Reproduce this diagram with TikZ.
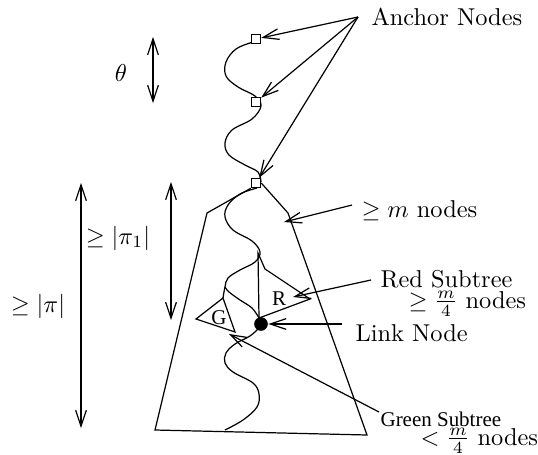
\documentclass[tikz,border=0pt]{standalone}
\usepackage{fontspec}
\newfontfamily\timesfont{Liberation Serif}
\usetikzlibrary{arrows.meta}
\begin{document}
\begin{tikzpicture}[x=0.41pt,y=-0.41pt, line width=0.5pt,
  barb/.style={-{Straight Barb[length=6.5pt,width=4.4pt]}},
  dbarb/.style={{Straight Barb[length=6.5pt,width=4.4pt]}-{Straight Barb[length=6.5pt,width=4.4pt]}},
  anchorbox/.style={draw, rectangle, minimum size=3.8pt, inner sep=0pt, fill=white},
  lbl/.style={inner sep=0pt, font=\normalsize},
  smalltimes/.style={inner sep=0pt, font=\timesfont\fontsize{8.6}{10}\selectfont},
  wave/.style={smooth, tension=0.6}]
\useasboundingbox (0,0) rectangle (538,454);

% outer tree outline
\coordinate (tl) at (207,213);
\coordinate (bl) at (155,430);
\coordinate (br) at (367,435);
\coordinate (tr) at (288,213);

% path through the tree
\draw plot[wave] coordinates {(253,42) (236,49) (226,62) (226,76) (238,87) (255,96) (261,106)
  (252,119) (232,130) (225,143) (229,155) (245,165) (258,172) (261,182)};
\draw plot[wave] coordinates {(257,188) (240,194) (228,205) (225,217) (233,230) (252,241)
  (260,252) (255,262) (240,270) (228,278) (225,287) (223,298)};
\draw plot[wave] coordinates {(225,287) (229,292) (240,300) (252,308) (259,318)};
\draw plot[wave] coordinates {(259,328) (250,336) (235,344) (226,353) (225,363) (233,372)
  (253,383) (259,394) (257,407) (243,420) (225,430)};

% anchor nodes
\node[anchorbox] (sq1) at (256,39) {};
\node[anchorbox] (sq2) at (256,102) {};
\node[anchorbox] (sq3) at (256,183) {};

\draw (sq3.south west) -- (tl) -- (bl) -- (br) -- (tr) -- (sq3.east);

% green subtree
\coordinate (gtop) at (223,298);
\coordinate (gleft) at (196,319);
\coordinate (gright) at (235,332);
\draw (gtop) -- (gleft) -- (gright) -- cycle;
\node[smalltimes] (glabel) at (219,318) {G};

% red subtree
\coordinate (rstem) at (258,253);
\coordinate (rtop) at (265,269);
\coordinate (rright) at (310,299);
\coordinate (rlow) at (259,318);
\draw (rstem) -- (rtop) -- (rright) -- (rlow) -- cycle;
\node[smalltimes] (rlabel) at (279,299) {R};

% link node
\node[circle, fill=black, minimum size=5.6pt, inner sep=0pt] (link) at (261,324) {};

% labels and pointers
\node[lbl, anchor=west] (anchors) at (371,17) {Anchor Nodes};
\coordinate (ancfoot) at (358,17);
\draw[barb] (ancfoot) -- (sq1);
\draw[barb] (ancfoot) -- (sq2);
\draw[barb] (ancfoot) -- (sq3);

\node[lbl, anchor=west] (mnodes) at (361,211) {$\geq m$ nodes};
\coordinate (mfoot) at (352,205);
\coordinate (mtip) at (284,222);
\draw[barb] (mfoot) -- (mtip);

\node[lbl, anchor=base west] (redlbl) at (380,287) {Red Subtree};
\node[lbl, anchor=base west] (redcnt) at (408,308) {$\geq \frac{m}{4}$ nodes};
\coordinate (rfoot) at (371,280);
\coordinate (rtip) at (293,297);
\draw[barb] (rfoot) -- (rtip);

\node[lbl, anchor=base west] (linklbl) at (355,341) {Link Node};
\coordinate (lfoot) at (342,324);
\draw[barb] (lfoot) -- (link);

\node[smalltimes, anchor=base west] (greenlbl) at (380,426) {Green Subtree};
\node[lbl, anchor=base west] (greencnt) at (420,445) {$< \frac{m}{4}$ nodes};
\coordinate (gfoot) at (379,412);
\coordinate (gtip) at (229,334);
\draw[barb] (gfoot) -- (gtip);

% distance markers
\coordinate (th1) at (153,37);
\coordinate (th2) at (153,103);
\draw[dbarb] (th1) -- (th2);
\node[lbl] (theta) at (121,73) {$\theta$};

\coordinate (pa1) at (171,182);
\coordinate (pa2) at (171,320);
\draw[dbarb] (pa1) -- (pa2);
\node[lbl] (pione) at (118,238) {$\geq |\pi_1|$};

\coordinate (pb1) at (81,183);
\coordinate (pb2) at (81,428);
\draw[dbarb] (pb1) -- (pb2);
\node[lbl] (pi) at (38,306) {$\geq |\pi|$};
\end{tikzpicture}
\end{document}
